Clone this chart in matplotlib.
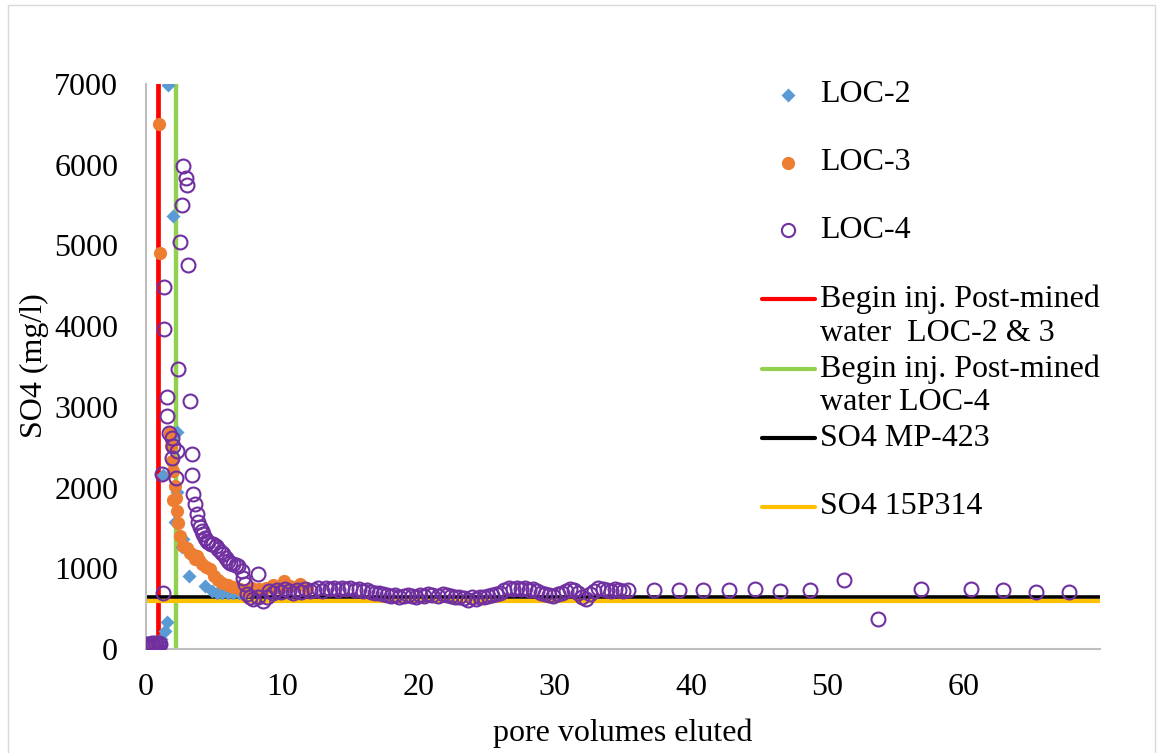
import matplotlib.pyplot as plt
from matplotlib.lines import Line2D
from matplotlib.patches import Rectangle

plt.rcParams['font.family'] = ['Liberation Serif', 'DejaVu Serif']

# LOC-2 column: pore volumes / SO4 (mg/l)
loc2_pv = [0.05, 0.2, 0.35, 0.5, 0.65, 0.8, 0.95, 1.1, 1.27, 1.39, 1.52, 1.64,
           2.0, 2.25, 2.13, 2.3, 2.5, 2.62, 2.74, 3.18, 4.33, 4.82, 5.2, 5.6,
           6.0, 6.4, 6.8, 7.2]
loc2_so4 = [60, 65, 70, 75, 80, 90, 100, 130, 2150, 220, 330, 6990,
            5360, 2690, 1570, 1950, 1400, 1260, 1360, 910, 780, 720, 700, 690,
            700, 690, 700, 690]

# LOC-3 column
loc3_pv = [0.05, 0.2, 0.4, 0.6, 0.98, 1.03, 1.76, 1.85, 1.9, 1.95, 2.0, 2.13,
           2.2, 2.3, 2.37, 2.5, 2.74, 3.0, 3.23, 3.4, 3.6, 3.74, 3.9, 4.08,
           4.4, 4.7, 5.0, 5.3, 5.55, 6.0, 6.4, 6.9, 7.4, 7.8, 8.3, 8.8,
           9.3, 9.8, 10.1, 10.6, 11.3, 11.8]
loc3_so4 = [70, 80, 75, 90, 6500, 4900, 2670, 2520, 2330, 2210, 1840, 2020,
            1870, 1710, 1560, 1400, 1280, 1250, 1195, 1180, 1120, 1150, 1100, 1055,
            1020, 990, 900, 860, 820, 790, 770, 740, 720, 760, 740, 760,
            790, 760, 840, 780, 800, 760]

# LOC-4 column
loc4_pv = [0.05, 0.15, 0.25, 0.35, 0.45, 0.55, 0.65, 0.75, 0.85, 0.95, 1.05,
           1.22, 1.15, 1.32, 1.34, 1.52, 1.56, 1.71, 1.88, 1.93, 2.0, 2.18,
           2.3, 2.37, 2.49, 2.62, 2.74, 2.91, 2.99, 3.1, 3.23, 3.35, 3.4,
           3.47, 3.6, 3.72, 3.84, 3.96, 4.09, 4.2, 4.33, 4.45, 4.57, 4.75,
           4.94, 5.1, 5.3, 5.5, 5.67, 5.85, 6.04, 6.2, 6.4, 6.6, 6.77, 7.02,
           7.14, 7.26, 7.39, 7.63, 7.87, 8.24, 8.24, 8.6, 8.86,
           9.0, 9.3, 9.6, 9.9, 10.2, 10.5, 10.8, 11.1, 11.4, 11.7, 12.0,
           12.3, 12.6, 12.9, 13.2, 13.5, 13.8, 14.1, 14.4, 14.7, 15.0, 15.3,
           15.6, 15.9, 16.2, 16.5, 16.8, 17.1,
           17.4, 17.7, 18.0, 18.3, 18.6, 18.9, 19.2, 19.5, 19.8, 20.1, 20.4,
           20.7, 21.0, 21.4, 21.8, 22.1, 22.4, 22.7,
           23.0, 23.3, 23.6, 23.9, 24.2, 24.5, 24.8, 25.1, 25.4, 25.7, 26.0,
           26.3, 26.6, 26.9, 27.2, 27.5, 27.8, 28.1, 28.4, 28.7, 29.0,
           29.3, 29.6, 29.9, 30.2, 30.5, 30.8, 31.1,
           31.4, 31.7, 32.0, 32.3, 32.6, 32.9, 33.2, 33.5, 33.8, 34.1, 34.4,
           34.7, 35.0, 35.4,
           37.3, 39.1, 40.9, 42.8, 44.7, 46.5, 48.7, 51.2, 53.7, 56.9, 60.5,
           62.9, 65.3, 67.7]
loc4_so4 = [60, 55, 65, 60, 70, 60, 75, 65, 70, 80, 60,
            690, 2170, 3960, 4480, 2890, 3120, 2670, 2620, 2370, 2520, 2120,
            2450, 3470, 5040, 5500, 5980, 5830, 5750, 4760, 3070, 2410, 2160,
            1920, 1800, 1670, 1570, 1510, 1460, 1420, 1380, 1340, 1320, 1300,
            1300, 1270, 1240, 1200, 1175, 1130, 1090, 1070, 1050, 1040, 1030, 970,
            885, 800, 680, 640, 620, 640, 930, 600, 640,
            720, 700, 730, 710, 740, 720, 700, 730, 710, 740, 720,
            730, 750, 720, 760, 740, 750, 730, 760, 740, 750, 730,
            740, 720, 730, 710, 700, 690,
            680, 670, 660, 670, 650, 660, 670, 660, 650, 670, 660,
            680, 670, 660, 680, 670, 660, 650,
            640, 630, 610, 640, 620, 650, 640, 660, 670, 680, 700,
            730, 750, 740, 760, 740, 750, 730, 740, 720, 700,
            680, 670, 660, 680, 700, 720, 740,
            730, 700, 650, 620, 680, 720, 750, 740, 730, 720, 740,
            730, 720, 730,
            728, 730, 725, 735, 741, 720, 728, 856, 376, 749, 745,
            729, 708, 704]

# reference lines
inj_loc23 = 0.9      # begin injection of post-mined water, LOC-2 & 3
inj_loc4 = 2.2       # begin injection of post-mined water, LOC-4
so4_mp423 = 645
so4_15p314 = 600
pv_end = 70
so4_top = 7000

BLUE = '#5B9BD5'
ORANGE = '#ED7D31'
PURPLE = '#7030A0'
RED = '#FF0000'
GREEN = '#92D050'
BLACK = '#000000'
YELLOW = '#FFC000'
FS = 23

W, H = 1158, 753
fig = plt.figure(figsize=(W / 100, H / 100), dpi=100)
ax = fig.add_axes([146 / W, 1 - 649 / H, (1100 - 146) / W, (649 - 84) / H])

ax.plot([inj_loc23, inj_loc23], [0, so4_top], color=RED, lw=3.4, zorder=1)
ax.plot([inj_loc4, inj_loc4], [0, so4_top], color=GREEN, lw=3.2, zorder=1)
ax.plot([0, pv_end], [so4_mp423, so4_mp423], color=BLACK, lw=2.6,
        solid_capstyle='round', zorder=1)
ax.plot([0, pv_end], [so4_15p314, so4_15p314], color=YELLOW, lw=3.0,
        solid_capstyle='round', zorder=1)

ax.plot(loc2_pv, loc2_so4, 'D', color=BLUE, ms=7, mec='none', zorder=3)
ax.plot(loc3_pv, loc3_so4, 'o', color=ORANGE, ms=9.5, mec='none', zorder=4)
ax.plot(loc4_pv, loc4_so4, 'o', mfc='none', mec=PURPLE, mew=1.5, ms=10,
        zorder=5)

ax.set_xlim(0, pv_end)
ax.set_ylim(0, so4_top)
ax.set_xticks(range(0, 61, 10))
ax.set_yticks(range(0, 7001, 1000))
ax.tick_params(length=0, labelsize=FS, colors='black')
ax.tick_params(axis='x', pad=17)
ax.tick_params(axis='y', pad=20)
for side in ('top', 'right'):
    ax.spines[side].set_visible(False)
for side in ('left', 'bottom'):
    ax.spines[side].set_color('#BFBFBF')
    ax.spines[side].set_linewidth(1.5)

fig.text(34 / W, 1 - 366 / H, 'SO4 (mg/l)', rotation=90, fontsize=FS,
         ha='center', va='center')
fig.text(623 / W, 1 - 733 / H, 'pore volumes eluted', fontsize=FS,
         ha='center', va='center')

# legend, laid out by hand so the line keys sit on the first text line
def key_marker(y, **kw):
    fig.add_artist(Line2D([788 / W], [1 - y / H], linestyle='none', **kw))

def key_line(y, color):
    fig.add_artist(Line2D([762 / W, 815 / W], [1 - y / H, 1 - y / H],
                          color=color, lw=3, solid_capstyle='round'))

def key_text(y, text):
    fig.text(820 / W, 1 - y / H, text, fontsize=FS, ha='left', va='center')

key_marker(95, marker='D', color=BLUE, ms=7, mec='none')
key_text(95, 'LOC-2')
key_marker(163, marker='o', color=ORANGE, ms=9.5, mec='none')
key_text(163, 'LOC-3')
key_marker(230, marker='o', mfc='none', mec=PURPLE, mew=1.5, ms=9.5)
key_text(230, 'LOC-4')
key_line(299, RED)
key_text(299, 'Begin inj. Post-mined')
key_text(333, 'water  LOC-2 & 3')
key_line(369, GREEN)
key_text(369, 'Begin inj. Post-mined')
key_text(403, 'water LOC-4')
key_line(438, BLACK)
key_text(438, 'SO4 MP-423')
key_line(507, YELLOW)
key_text(507, 'SO4 15P314')

# chart frame
fig.add_artist(Rectangle((8 / W, -0.05), (W - 11) / W, 1.05 - 5 / H,
                         transform=fig.transFigure, fill=False,
                         edgecolor='#D9D9D9', lw=1))

fig.savefig('out.png', dpi=100)
